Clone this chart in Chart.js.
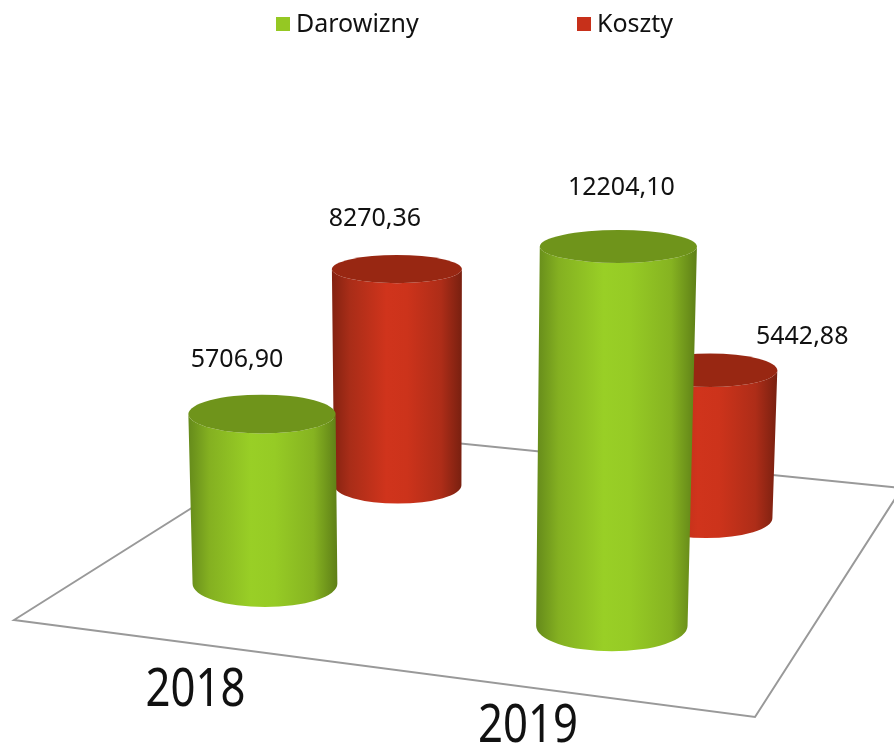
<html>
  <head>
    <meta charset="utf-8">
    <script src="https://cdn.jsdelivr.net/npm/chart.js@4"></script>
  </head>
  <body>
    <canvas id="graph" width="894" height="748"></canvas>
    <style>
      html, body{
        margin: 0;
        background-color: white;
      }
      canvas{
        display: block;
      }
    </style>
    <script>
      var years = ['2018', '2019'];
      var darowizny = [5706.90, 12204.10];
      var koszty = [8270.36, 5442.88];

      var fontName = '"Noto Sans"';
      var textColor = '#111';

      // floor of the 3d box, clockwise from front left
      var floor = [[14, 620], [755, 717], [902, 488], [317, 429]];
      // the cylinders do not sit dead centre on their floor cells
      var floorNudge = [-2.5, 1.5];

      // value labels sit by hand next to the cylinder tops, like in the original
      var valueLabelShift = [
        [[-25, -54], [3, -59]],
        [[-22, -50], [92, -33]]
      ];
      var yearLabelSpot = [[195.5, 691], [528, 727]];

      var seriesStyle = [
        {
          swatch: '#95c823', cap: '#6f941b',
          side: ['#658a1b', '#84b021', '#99cf26', '#96cb25', '#86b321', '#5e7f17']
        },
        {
          swatch: '#c7301a', cap: '#982712',
          side: ['#832211', '#a92d18', '#d0341c', '#cc331b', '#ae2d18', '#782010']
        }
      ];
      var sideStops = [0, 0.14, 0.42, 0.58, 0.84, 1];

      // square (u, v) -> floor on the screen
      function makeProjection(q){
        var dx1 = q[1][0] - q[2][0], dx2 = q[3][0] - q[2][0];
        var dy1 = q[1][1] - q[2][1], dy2 = q[3][1] - q[2][1];
        var sx = q[0][0] - q[1][0] + q[2][0] - q[3][0];
        var sy = q[0][1] - q[1][1] + q[2][1] - q[3][1];
        var det = dx1 * dy2 - dx2 * dy1;
        var g = (sx * dy2 - dx2 * sy) / det;
        var h = (dx1 * sy - sx * dy1) / det;
        var a = q[1][0] - q[0][0] + g * q[1][0];
        var b = q[3][0] - q[0][0] + h * q[3][0];
        var d = q[1][1] - q[0][1] + g * q[1][1];
        var e = q[3][1] - q[0][1] + h * q[3][1];
        return function(u, v){
          var w = g * u + h * v + 1;
          return {
            x: (a * u + b * v + q[0][0]) / w,
            y: (d * u + e * v + q[0][1]) / w,
            w: w
          };
        };
      }
      var project = makeProjection(floor);

      // where a bar of the chart ends up in the 3d picture
      function cylinderOf(chart, datasetIndex, bar){
        var area = chart.chartArea;
        var n = chart.data.datasets.length;
        var u = (bar.x - area.left) / area.width;
        var v = (datasetIndex + 0.5) / n;
        var p = project(u, v);
        var x = p.x + floorNudge[0];
        var y = p.y + floorNudge[1];
        var rx = bar.width / 2 / p.w;
        var rise = (bar.base - bar.y) / p.w;
        // verticals lean together towards a point far below
        var top = 1 + rise * 0.0001;
        return {
          xb: x, yb: y, rb: rx,
          xt: 440 + (x - 440) * top, yt: y - rise, rt: rx * top
        };
      }

      function flatness(y){
        return 0.21 + 0.00033 * (y - 250);
      }

      var cylinders = {
        id: 'cylinders',
        beforeDatasetsDraw: function(chart){
          var ctx = chart.ctx;
          ctx.save();
          ctx.strokeStyle = '#999';
          ctx.lineWidth = 2;
          ctx.beginPath();
          floor.forEach(function(c, i){
            if (i == 0) ctx.moveTo(c[0], c[1]); else ctx.lineTo(c[0], c[1]);
          });
          ctx.closePath();
          ctx.stroke();
          ctx.restore();
        },
        beforeDatasetDraw: function(chart, args){
          var ctx = chart.ctx;
          var style = seriesStyle[args.index];
          args.meta.data.forEach(function(bar){
            var c = cylinderOf(chart, args.index, bar);
            var side = ctx.createLinearGradient(Math.min(c.xb - c.rb, c.xt - c.rt), 0, Math.max(c.xb + c.rb, c.xt + c.rt), 0);
            sideStops.forEach(function(s, i){ side.addColorStop(s, style.side[i]); });
            ctx.save();
            ctx.fillStyle = side;
            ctx.beginPath();
            ctx.moveTo(c.xt - c.rt, c.yt);
            ctx.lineTo(c.xb - c.rb, c.yb);
            ctx.ellipse(c.xb, c.yb, c.rb, c.rb * flatness(c.yb), 0, Math.PI, 0, true);
            ctx.lineTo(c.xt + c.rt, c.yt);
            ctx.ellipse(c.xt, c.yt, c.rt, c.rt * flatness(c.yt), 0, 0, Math.PI, false);
            ctx.closePath();
            ctx.fill();
            ctx.fillStyle = style.cap;
            ctx.beginPath();
            ctx.ellipse(c.xt, c.yt, c.rt, c.rt * flatness(c.yt), 0, 0, Math.PI * 2);
            ctx.fill();
            ctx.restore();
          });
          return false;
        },
        afterDatasetsDraw: function(chart){
          var ctx = chart.ctx;
          ctx.save();
          ctx.fillStyle = textColor;
          ctx.textBaseline = 'middle';
          ctx.textAlign = 'center';
          ctx.font = '25px ' + fontName;

          // value labels
          chart.data.datasets.forEach(function(dataset, d){
            chart.getDatasetMeta(d).data.forEach(function(bar, i){
              var c = cylinderOf(chart, d, bar);
              var text = dataset.data[i].toFixed(2).replace('.', ',');
              var shift = valueLabelShift[d][i];
              ctx.fillText(text, c.xt + shift[0], c.yt + shift[1]);
            });
          });

          // years, the font of the original is narrower than Noto
          chart.data.labels.forEach(function(year, i){
            ctx.save();
            ctx.translate(yearLabelSpot[i][0], yearLabelSpot[i][1]);
            ctx.scale(0.84, 1);
            ctx.font = '52px ' + fontName;
            ctx.fillText(year, 0, 0);
            ctx.restore();
          });

          // legend, its gap is wider than the built in one allows
          ctx.textAlign = 'left';
          ctx.textBaseline = 'alphabetic';
          var legendX = [276, 577];
          chart.data.datasets.forEach(function(dataset, d){
            ctx.fillStyle = seriesStyle[d].swatch;
            ctx.fillRect(legendX[d], 17, 14, 14);
            ctx.fillStyle = textColor;
            ctx.fillText(dataset.label, legendX[d] + 20, 32);
          });
          ctx.restore();
        }
      };

      var graph = new Chart(document.getElementById('graph'), {
        type: 'bar',
        data: {
          labels: years,
          datasets: [
            {label: 'Darowizny', data: darowizny, backgroundColor: seriesStyle[0].swatch},
            {label: 'Koszty', data: koszty, backgroundColor: seriesStyle[1].swatch}
          ]
        },
        options: {
          responsive: false,
          animation: false,
          devicePixelRatio: 1,
          layout: {padding: {bottom: 5}},
          datasets: {bar: {grouped: false, categoryPercentage: 1, barPercentage: 0.34}},
          plugins: {
            legend: {display: false},
            tooltip: {enabled: false}
          },
          scales: {
            x: {display: false},
            y: {display: false, min: 0, max: 23800}
          }
        },
        plugins: [cylinders]
      });
    </script>
  </body>
</html>
